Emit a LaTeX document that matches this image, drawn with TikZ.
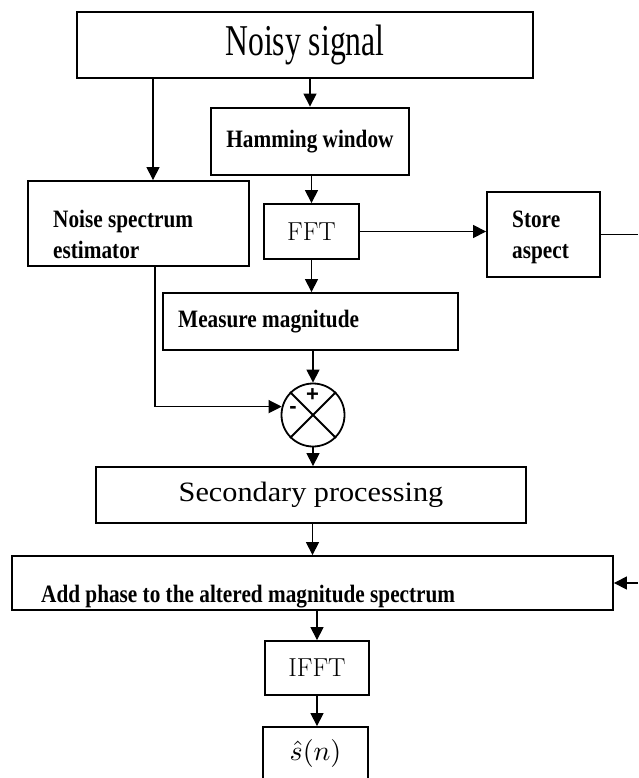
\documentclass[tikz,border=0pt]{standalone}
\usepackage{graphicx}
\usepackage{fontspec}
\setmainfont{Liberation Serif}
\newfontfamily\narrowfont[FakeStretch=0.85]{Liberation Serif}
\newfontfamily\tallfont[FakeStretch=0.72]{Liberation Serif}
\newfontfamily\widefont[FakeStretch=1.08]{Liberation Serif}
\newfontfamily\lmfont{Latin Modern Roman}
\newfontfamily\signfont{Liberation Sans}
\usetikzlibrary{arrows.meta}

\tikzset{
  blk/.style={draw, line width=1.8pt, inner sep=0pt},
  thickblk/.style={blk, line width=2.8pt},
  lbl/.style={inner sep=0pt, font=\narrowfont\bfseries\fontsize{25}{30}\selectfont},
  lblw/.style={lbl, anchor=base west},
  sign/.style={inner sep=0pt, font=\signfont\bfseries\fontsize{22}{22}\selectfont},
  arr/.style={line width=1.2pt, -{Triangle[length=13pt,width=13pt]}},
  wire/.style={line width=1.2pt}
}

\begin{document}
\begin{tikzpicture}[x=1pt,y=-1pt]
\useasboundingbox (0,0) rectangle (638,778);
\clip (0,0) rectangle (638,778);

\node[thickblk, minimum width=456pt, minimum height=66pt, font=\tallfont\fontsize{44}{48}\selectfont] (noisy) at (305,45) {Noisy signal};
\node[thickblk, lbl, minimum width=198pt, minimum height=67pt] (ham) at (310,141.5) {Hamming window};

\node[blk, minimum width=221pt, minimum height=85pt] (est) at (138.5,223.5) {};
\node[lblw] (estA) at (53,227) {Noise spectrum};
\node[lblw] (estB) at (53,258) {estimator};

\node[blk, minimum width=95pt, minimum height=55pt, font=\lmfont\fontsize{26}{30}\selectfont] (fft) at (311.5,231.5) {FFT};

\node[blk, minimum width=113pt, minimum height=85pt] (store) at (543.5,234.5) {};
\node[lblw] (storeA) at (512,227) {Store};
\node[lblw] (storeB) at (512,258) {aspect};

\node[blk, minimum width=295pt, minimum height=57pt] (meas) at (310.5,321.5) {};
\node[lblw] (measT) at (178,327) {Measure magnitude};

\node[circle, draw, line width=1.8pt, minimum size=63pt, inner sep=0pt] (sum) at (313,415) {};
\draw[line width=1.8pt] (sum.45) -- (sum.225) (sum.135) -- (sum.315);
\node[sign] (plus) at (312.5,395) {+};
\node[sign] (minus) at (293,410) {-};

\node[blk, minimum width=430pt, minimum height=56pt, font=\widefont\fontsize{28}{32}\selectfont] (sec) at (311,495) {Secondary processing};

\node[blk, minimum width=601pt, minimum height=54pt] (add) at (312.5,583) {};
\node[lblw] (addT) at (41,602) {Add phase to the altered magnitude spectrum};

\node[blk, minimum width=104pt, minimum height=54pt, font=\lmfont\fontsize{26}{30}\selectfont] (ifft) at (317,668) {IFFT};

\node[blk, minimum width=105pt, minimum height=80pt] (out) at (315.5,767) {};
\node[inner sep=0pt] (outT) at (315.5,753) {\scalebox{2.8}{$\hat{s}(n)$}};

\coordinate (outR) at (638,234.5);
\coordinate (inR) at (638,583);

\draw[arr] ([xshift=14.5pt]est.north |- noisy.south) -- ([xshift=14.5pt]est.north);
\draw[arr] (ham.north |- noisy.south) -- (ham.north);
\draw[arr] (fft.north |- ham.south) -- (fft.north);
\draw[arr] (fft.east) -- (fft.east -| store.west);
\draw[wire] (store.east) -- (outR);
\draw[arr] (fft.south) -- (fft.south |- meas.north);
\draw[arr] (sum.north |- meas.south) -- (sum.north);
\draw[arr] ([xshift=16.5pt]est.south) |- (sum.165);
\draw[arr] (sum.south) -- (sum.south |- sec.north);
\draw[arr] (add.north |- sec.south) -- (add.north);
\draw[arr] (inR) -- (add.east);
\draw[arr] (ifft.north |- add.south) -- (ifft.north);
\draw[arr] (ifft.south) -- (ifft.south |- out.north);
\end{tikzpicture}
\end{document}
